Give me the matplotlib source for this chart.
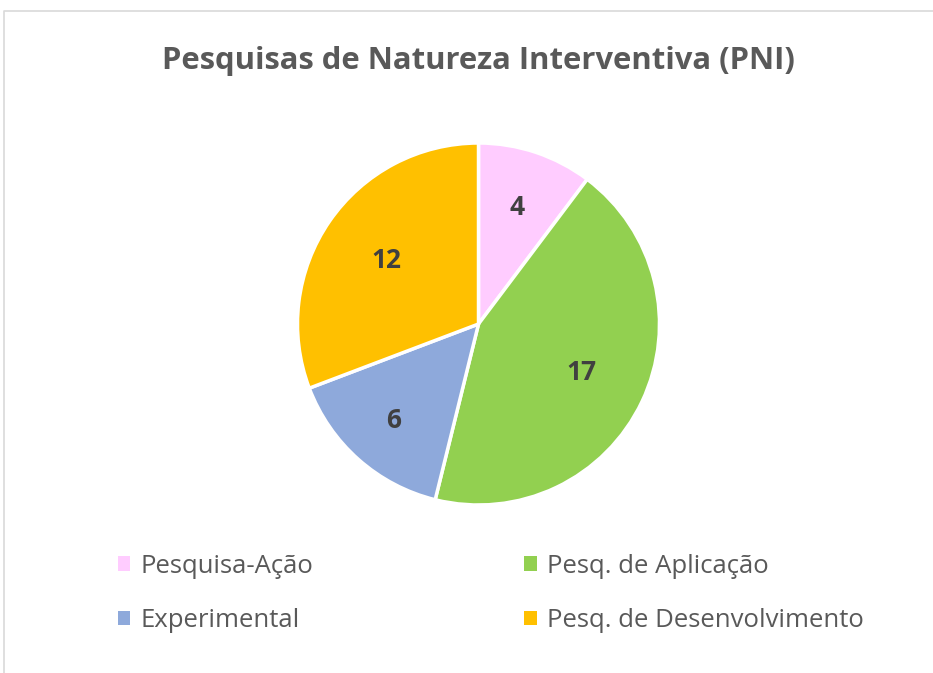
import numpy as np
import matplotlib.pyplot as plt
from matplotlib.lines import Line2D
from matplotlib.patches import Patch

plt.rcParams['font.family'] = ['Open Sans', 'DejaVu Sans']

categories = ["Pesquisa-Ação", "Pesq. de Aplicação", "Experimental", "Pesq. de Desenvolvimento"]
values = [4, 17, 6, 12]
colors = ["#FFCCFF", "#92D050", "#8EA9DB", "#FFC000"]
label_dist = [0.68, 0.63, 0.71, 0.62]

W, H = 933, 673
fig = plt.figure(figsize=(W / 100, H / 100), dpi=100)

# chart border (top and left edge visible)
fig.add_artist(Line2D([4 / W, 4 / W, 1], [0, 1 - 11 / H, 1 - 11 / H],
                      transform=fig.transFigure, color="#D9D9D9", lw=1.2))

cx, cy, r = 478.5, 324, 181
ax = fig.add_axes([(cx - r) / W, 1 - (cy + r) / H, 2 * r / W, 2 * r / H])
wedges, _ = ax.pie(values, colors=colors, startangle=90, counterclock=False,
                   wedgeprops=dict(edgecolor="white", linewidth=2.5))
ax.set_xlim(-1, 1)
ax.set_ylim(-1, 1)
ax.set_aspect("equal")

total = sum(values)
start = 90.0
for v, d in zip(values, label_dist):
    mid = np.radians(start - v / total * 180)
    ax.text(d * np.cos(mid), d * np.sin(mid), str(v), ha="center", va="center",
            fontsize=19, fontweight="bold", color="#404040")
    start -= v / total * 360

fig.text(478 / W, 1 - 61 / H, "Pesquisas de Natureza Interventiva (PNI)",
         ha="center", va="center", fontsize=22.3, fontweight="bold", color="#595959")

# legend filled row by row like Excel
order = [0, 2, 1, 3]
handles = [Patch(facecolor=colors[i], edgecolor="none") for i in order]
leg = fig.legend(handles, [categories[i] for i in order], ncol=2, loc="upper left",
                 bbox_to_anchor=(97 / W, 1 - 533 / H), frameon=False,
                 fontsize=18.5, handlelength=0.5, handleheight=0.5,
                 handletextpad=0.4, columnspacing=8.2, labelspacing=1.15,
                 borderpad=0.3)
for t in leg.get_texts():
    t.set_color("#595959")

fig.savefig("out.png", dpi=100)
